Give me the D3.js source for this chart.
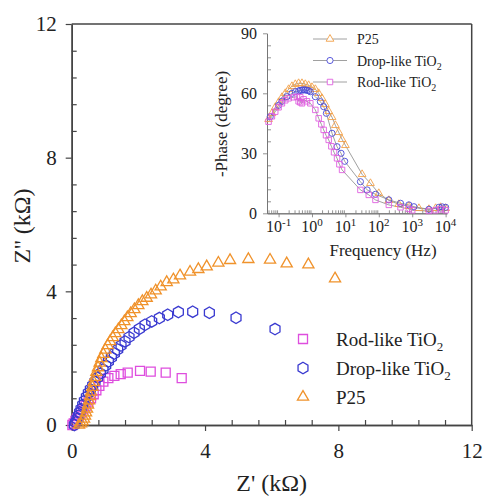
<!DOCTYPE html>
<html>
<head>
<meta charset="utf-8">
<script src="https://cdn.jsdelivr.net/npm/d3@7"></script>
<style>
  body { margin: 0; background: #fff; }
  svg text { font-family: "Liberation Serif", "Times New Roman", Times, "DejaVu Serif", serif !important; }
</style>
</head>
<body>
<svg id="chart" width="485" height="496"></svg>
<script>
// Nyquist data, Z' and Z'' in kOhm
let rodZ = [[0.02,0],[0.06,0.05],[0.11,0.12],[0.16,0.2],[0.22,0.28],[0.28,0.37],[0.35,0.47],[0.42,0.57],[0.5,0.68],[0.58,0.8],[0.66,0.92],[0.74,1.04],[0.83,1.17],[0.95,1.3],[1.1,1.4],[1.28,1.47],[1.47,1.52],[1.68,1.57],[2.05,1.62],[2.37,1.6],[2.82,1.57],[3.3,1.4]];
let dropZ = [[0.08,0],[0.12,0.08],[0.16,0.18],[0.2,0.28],[0.24,0.38],[0.28,0.48],[0.33,0.6],[0.38,0.72],[0.44,0.84],[0.5,0.96],[0.56,1.07],[0.63,1.18],[0.7,1.3],[0.78,1.42],[0.86,1.54],[0.94,1.66],[1.02,1.78],[1.1,1.9],[1.19,2.02],[1.28,2.14],[1.38,2.26],[1.48,2.38],[1.6,2.5],[1.72,2.63],[1.87,2.76],[2.03,2.88],[2.2,3.0],[2.4,3.1],[2.63,3.2],[2.88,3.3],[3.2,3.38],[3.63,3.39],[4.13,3.36],[4.93,3.21],[6.1,2.87]];
let p25Z = [[0.22,0],[0.28,0.04],[0.33,0.1],[0.37,0.18],[0.4,0.27],[0.43,0.37],[0.46,0.48],[0.49,0.6],[0.52,0.73],[0.55,0.86],[0.58,0.99],[0.62,1.13],[0.66,1.28],[0.7,1.43],[0.74,1.58],[0.79,1.72],[0.84,1.86],[0.89,1.99],[0.95,2.12],[1.01,2.25],[1.08,2.38],[1.15,2.5],[1.23,2.62],[1.31,2.74],[1.4,2.86],[1.49,2.98],[1.58,3.1],[1.67,3.22],[1.77,3.34],[1.88,3.46],[2.0,3.58],[2.12,3.7],[2.25,3.8],[2.38,3.9],[2.52,4.02],[2.67,4.14],[2.85,4.27],[3.05,4.35],[3.25,4.47],[3.55,4.58],[3.8,4.66],[4.05,4.74],[4.4,4.85],[4.75,4.93],[5.3,4.96],[5.95,4.94],[6.45,4.83],[7.1,4.8],[7.9,4.38]];

// Bode phase data, [log10(f / Hz), -phase in degree]
let p25Phase = [[-1.3,47],[-1.2,50],[-1.1,53],[-1.0,55.5],[-0.9,58],[-0.8,60],[-0.7,62],[-0.6,63.5],[-0.5,64.5],[-0.4,65],[-0.3,65],[-0.2,64.5],[-0.1,64],[0.0,63],[0.1,62],[0.2,60],[0.3,57.5],[0.4,54.5],[0.5,51],[0.6,48],[0.7,44],[0.8,40.5],[0.9,37],[1.0,34],[1.5,19.5],[1.75,15],[2.0,10],[2.3,6.5],[2.6,4.5],[2.9,3.5],[3.2,2.5],[3.5,2],[3.7,2.5],[3.85,3],[4.0,2.5]];
let dropPhase = [[-1.25,48.3],[-1.0,54],[-0.9,56],[-0.75,58.3],[-0.6,60],[-0.5,60.8],[-0.4,61.2],[-0.35,61.5],[-0.3,61.6],[-0.25,61.7],[-0.2,61.7],[-0.15,61.5],[-0.1,61.3],[-0.05,60.8],[0.1,58.3],[0.25,55.8],[0.35,53.3],[0.43,50],[0.6,40],[0.75,33.3],[0.87,30],[0.98,26],[1.45,15.8],[1.65,11.7],[1.9,9.5],[2.3,6.7],[2.65,5],[2.9,4.2],[3.05,3.3],[3.5,2],[3.8,3],[3.9,3.2],[4.0,3]];
let rodPhase = [[-1.3,45.8],[-1.2,48.5],[-1.1,50.8],[-1.0,53],[-0.9,55],[-0.8,56.5],[-0.7,57.5],[-0.55,58],[-0.45,58.3],[-0.4,56],[-0.35,58],[-0.35,55.5],[-0.3,55],[-0.25,57],[-0.15,56],[-0.05,55],[0.1,51.7],[0.2,47.5],[0.28,44.5],[0.35,41.7],[0.42,39],[0.5,36.7],[0.58,33.5],[0.66,30.5],[0.75,27.5],[0.82,24.5],[0.9,21.7],[1.45,11.7],[1.7,9.2],[1.9,6.7],[2.3,4.2],[2.65,3],[2.9,2.2],[3.0,1.5],[3.5,1.2],[3.7,1.5],[3.85,2],[4.0,1.5]];

let mainTicks = [0, 4, 8, 12];
let phaseTicks = [0, 30, 60, 90];
let freqExps = [-1, 0, 1, 2, 3, 4];

let seriesNames = ["Rod-like TiO", "Drop-like TiO", "P25"];
let seriesSub = ["2", "2", ""];

const orange = "#f0922b", blue = "#3a3ad0", magenta = "#de4ede";

// hexagon with pointed top
const symbolHex = {
    draw(ctx, size) {
        let r = Math.sqrt(size * 2 / (3 * Math.sqrt(3)));
        for (let i = 0; i < 6; i++) {
            let a = -Math.PI / 2 + i * Math.PI / 3;
            if (i == 0) ctx.moveTo(r * Math.cos(a), r * Math.sin(a));
            else ctx.lineTo(r * Math.cos(a), r * Math.sin(a));
        }
        ctx.closePath();
    }
};

let svg = d3.select("#chart");

// ---- main Nyquist plot ----
let x = d3.scaleLinear().domain([0, 12]).range([71.7, 471.7]);
let y = d3.scaleLinear().domain([0, 12]).range([425, 24]);
let minor = d3.range(0, 12.01, 0.8).filter(v => Math.abs(v / 4 - Math.round(v / 4)) > 0.01);

let axisCol = "#444";

// frame top and right
svg.append("line").attr("x1", x(0)).attr("x2", x(12)).attr("y1", y(12)).attr("y2", y(12))
    .attr("stroke", axisCol).attr("stroke-width", 1.5);
svg.append("line").attr("x1", x(12)).attr("x2", x(12)).attr("y1", y(12)).attr("y2", y(0))
    .attr("stroke", axisCol).attr("stroke-width", 1.5);

let gx = svg.append("g").attr("transform", "translate(0," + y(0) + ")")
    .call(d3.axisBottom(x).tickValues(mainTicks).tickSize(6).tickSizeOuter(0).tickPadding(12).tickFormat(d3.format("d")));
let gxm = svg.append("g").attr("transform", "translate(0," + y(0) + ")")
    .call(d3.axisBottom(x).tickValues(minor).tickSize(-5).tickSizeOuter(0).tickFormat(""));
let gy = svg.append("g").attr("transform", "translate(" + x(0) + ",0)")
    .call(d3.axisLeft(y).tickValues(mainTicks).tickSize(6).tickSizeOuter(0).tickPadding(9).tickFormat(d3.format("d")));
let gym = svg.append("g").attr("transform", "translate(" + x(0) + ",0)")
    .call(d3.axisLeft(y).tickValues(minor).tickSize(-5).tickSizeOuter(0).tickFormat(""));

[gx, gxm, gy, gym].forEach(g => {
    g.attr("font-family", null);
    g.select(".domain").attr("stroke", axisCol).attr("stroke-width", 1.5);
    g.selectAll(".tick line").attr("stroke", axisCol).attr("stroke-width", 1.2);
    g.selectAll("text").attr("font-size", 21).attr("fill", "#222");
});

svg.append("text").attr("x", 271.7).attr("y", 491).attr("text-anchor", "middle")
    .attr("font-size", 24).attr("fill", "#222").text("Z' (k\u03a9)");
svg.append("text").attr("transform", "translate(30,226) rotate(-90)").attr("text-anchor", "middle")
    .attr("font-size", 24).attr("fill", "#222").text("Z'' (k\u03a9)");

let symSquare = d3.symbol().type(d3.symbolSquare).size(81);
let symHex = d3.symbol().type(symbolHex).size(85);
let symTri = d3.symbol().type(d3.symbolTriangle).size(54);

let mainSeries = [
    {data: rodZ, sym: symSquare, color: magenta},
    {data: dropZ, sym: symHex, color: blue},
    {data: p25Z, sym: symTri, color: orange}
];

mainSeries.forEach(s => {
    svg.append("g").selectAll("path").data(s.data).enter().append("path")
        .attr("transform", d => "translate(" + x(d[0]) + "," + y(d[1]) + ")")
        .attr("d", s.sym())
        .attr("fill", "none").attr("stroke", s.color).attr("stroke-width", 1.3);
});

// main legend
let legY = d3.scalePoint().domain(seriesNames).range([339, 397]);
seriesNames.forEach((n, i) => {
    let s = mainSeries[i];
    svg.append("path").attr("transform", "translate(303," + legY(n) + ")")
        .attr("d", s.sym()).attr("fill", "none").attr("stroke", s.color).attr("stroke-width", 1.3);
    let t = svg.append("text").attr("x", 336).attr("y", legY(n) + 7)
        .attr("font-size", 19).attr("fill", "#222").text(n);
    if (seriesSub[i]) t.append("tspan").attr("dy", 5).attr("font-size", 13).text(seriesSub[i]);
});

// ---- inset Bode phase plot ----
let fx = d3.scaleLog().domain([0.045, 11000]).range([267, 447]);
let py = d3.scaleLinear().domain([0, 90]).range([213.3, 33.3]);
let inCol = "#777";

let logMinor = [];
for (let e = -2; e <= 4; e++) for (let k = 2; k <= 9; k++) {
    let v = k * Math.pow(10, e);
    if (v >= 0.045 && v <= 11000) logMinor.push(v);
}

let ix = svg.append("g").attr("transform", "translate(0," + py(0) + ")")
    .call(d3.axisBottom(fx).tickValues(freqExps.map(e => Math.pow(10, e))).tickSize(4).tickSizeOuter(0).tickFormat(""));
let ixm = svg.append("g").attr("transform", "translate(0," + py(0) + ")")
    .call(d3.axisBottom(fx).tickValues(logMinor).tickSize(-3).tickSizeOuter(0).tickFormat(""));
let iy = svg.append("g").attr("transform", "translate(" + fx(0.045) + ",0)")
    .call(d3.axisLeft(py).tickValues(phaseTicks).tickSize(4).tickSizeOuter(0).tickPadding(6));
let iym = svg.append("g").attr("transform", "translate(" + fx(0.045) + ",0)")
    .call(d3.axisLeft(py).tickValues(d3.range(6, 90, 6).filter(v => v % 30 != 0)).tickSize(-4).tickSizeOuter(0).tickFormat(""));

[ix, ixm, iy, iym].forEach(g => {
    g.attr("font-family", null);
    g.select(".domain").attr("stroke", inCol).attr("stroke-width", 1);
    g.selectAll(".tick line").attr("stroke", inCol).attr("stroke-width", 0.8);
    g.selectAll("text").attr("font-size", 16).attr("fill", "#222");
});

freqExps.forEach(e => {
    let t = svg.append("text").attr("x", fx(Math.pow(10, e))).attr("y", 232)
        .attr("text-anchor", "middle").attr("font-size", 16).attr("fill", "#222").text("10");
    t.append("tspan").attr("dy", -6).attr("font-size", 11).text(e < 0 ? "-" + (-e) : e);
});

svg.append("text").attr("x", 383).attr("y", 256).attr("text-anchor", "middle")
    .attr("font-size", 17).attr("fill", "#222").text("Frequency (Hz)");
svg.append("text").attr("transform", "translate(227,124) rotate(-90)").attr("text-anchor", "middle")
    .attr("font-size", 17).attr("fill", "#222").text("-Phase (degree)");

let iSquare = d3.symbol().type(d3.symbolSquare).size(30);
let iCircle = d3.symbol().type(d3.symbolCircle).size(30);
let iTri = d3.symbol().type(d3.symbolTriangle).size(26);

let insetSeries = [
    {data: p25Phase, sym: iTri, color: "#f2a04a"},
    {data: dropPhase, sym: iCircle, color: "#4848d8"},
    {data: rodPhase, sym: iSquare, color: "#e060e0"}
];
let line = d3.line().x(d => fx(Math.pow(10, d[0]))).y(d => py(d[1]));

insetSeries.forEach(s => {
    svg.append("path").datum(s.data).attr("d", line)
        .attr("fill", "none").attr("stroke", "#888").attr("stroke-width", 0.8);
});
insetSeries.forEach(s => {
    svg.append("g").selectAll("path").data(s.data).enter().append("path")
        .attr("transform", d => "translate(" + fx(Math.pow(10, d[0])) + "," + py(d[1]) + ")")
        .attr("d", s.sym())
        .attr("fill", "none").attr("stroke", s.color).attr("stroke-width", 0.9);
});

// inset legend
let inNames = ["P25", "Drop-like TiO", "Rod-like TiO"];
let inSub = ["", "2", "2"];
let inY = d3.scalePoint().domain(inNames).range([39, 82]);
inNames.forEach((n, i) => {
    let s = insetSeries[i];
    svg.append("line").attr("x1", 313).attr("x2", 347).attr("y1", inY(n)).attr("y2", inY(n))
        .attr("stroke", "#888").attr("stroke-width", 0.8);
    svg.append("path").attr("transform", "translate(330," + inY(n) + ")")
        .attr("d", s.sym()).attr("fill", "white").attr("stroke", s.color).attr("stroke-width", 0.9);
    let t = svg.append("text").attr("x", 357).attr("y", inY(n) + 5)
        .attr("font-size", 14).attr("fill", "#222").text(n);
    if (inSub[i]) t.append("tspan").attr("dy", 4).attr("font-size", 10).text(inSub[i]);
});
</script>
</body>
</html>
